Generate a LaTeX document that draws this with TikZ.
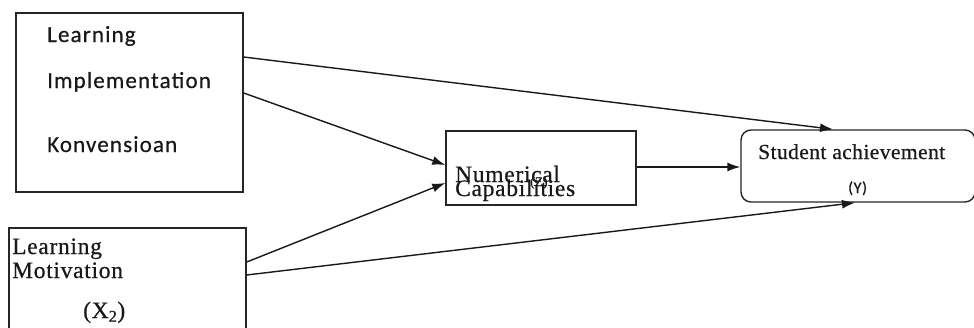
\documentclass[tikz,border=0pt]{standalone}
\usepackage{fontspec}
\usetikzlibrary{arrows.meta,calc}
\newfontfamily\calib{Carlito}[LetterSpace=5,FakeBold=0.5]
\newfontfamily\calibplain{Carlito}[LetterSpace=4,FakeBold=0.5]
\newfontfamily\tms{Liberation Serif}[LetterSpace=3,FakeBold=0.5]
\newfontfamily\tmsb{Liberation Serif}[LetterSpace=2,FakeBold=0.5]
\begin{document}
\begin{tikzpicture}[x=1pt,y=-1pt,
  box/.style={draw=black!85,line width=1.4pt,inner sep=0pt,fill=white},
  txt/.style={anchor=base west,inner sep=0pt,text=black!90},
  sans/.style={txt,font=\calib\fontsize{23}{25}\selectfont},
  serif/.style={txt,font=\tms\fontsize{23.5}{25}\selectfont},
  arr/.style={line width=1.4pt,draw=black!90,-{Latex[length=13pt,width=9pt]}}]
\useasboundingbox (0,0) rectangle (974,327);
\node[box,minimum width=227pt,minimum height=179pt] (b1) at (129.5,102.5) {};
\node[box,minimum width=237pt,minimum height=130pt] (b2) at (127.5,293) {};
\node[box,minimum width=190pt,minimum height=74pt] (b3) at (541,168) {};
\node[box,rounded corners=10pt,minimum width=234pt,minimum height=72pt] (b4) at (858,166) {};
% texts
\node[sans] (t1) at (47,42) {Learning};
\node[sans] (t2) at (47,88) {Implementation};
\node[sans] (t3) at (47,152) {Konvensioan};
\node[serif] (t4) at (12,254) {Learning};
\node[serif] (t5) at (12,278) {Motivation};
\node[serif] (t6) at (83,318) {(X\textsubscript{2})};
\node[txt,font=\tms\fontsize{13}{14}\selectfont] (t7) at (530,186) {(Z)};
\node[serif] (t8) at (455,182) {Numerical};
\node[serif] (t9) at (455,196) {Capabilities};
\node[txt,font=\tmsb\fontsize{21.5}{23}\selectfont] (t10) at (758,159) {Student achievement};
\node[txt,font=\calibplain\fontsize{16}{18}\selectfont] (t11) at (848,193) {(Y)};
% connectors
\draw[arr] (b1.east |- 0,57) -- (b4.north -| 833,0);
\draw[arr] (b1.east |- 0,93) -- (b3.west |- 0,165);
\draw[arr] (b2.east |- 0,262) -- (b3.west |- 0,183);
\draw[arr] (b2.east |- 0,275) -- (b4.south -| 855,0);
\draw[arr] (b3.east |- 0,167) -- (b4.west |- 0,167);
\end{tikzpicture}
\end{document}
